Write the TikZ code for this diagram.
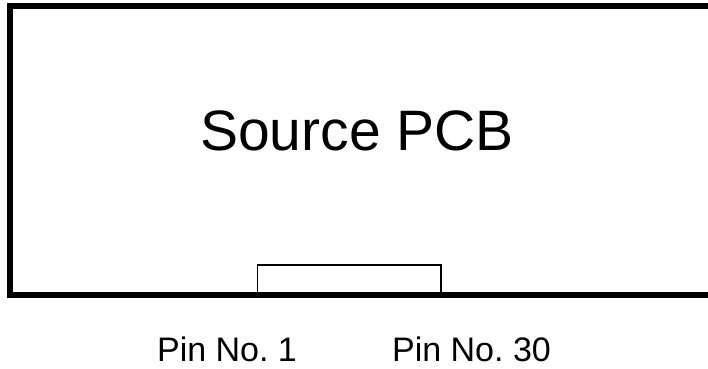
\documentclass[tikz,border=0pt]{standalone}
\usepackage{fontspec}
\setmainfont{Liberation Sans}
\usepackage{tikz}
\usetikzlibrary{positioning}
\frenchspacing

\begin{document}
\begin{tikzpicture}[
  x=1pt, y=-1pt,
  board/.style={line width=6pt, line join=miter},
  conn/.style={draw, line width=1.5pt, inner sep=0pt, minimum width=183.5pt, minimum height=30pt},
  label/.style={inner sep=0pt, anchor=base, font=\fontsize{34}{40}\selectfont},
  title/.style={inner sep=0pt, anchor=base, font=\fontsize{57}{66}\selectfont}
]
\useasboundingbox (0,0) rectangle (708,368);
\node[conn] (connector) at (349.25,280) {};
\draw[board] (708,6) -- (9.5,6) -- (9.5,295) -- (708,295);
\node[title] (pcb) at (357,150) {Source PCB};
\node[label] (pin1) at (227,361) {Pin No. 1};
\node[label] (pin30) at (471.5,361) {Pin No. 30};
\end{tikzpicture}
\end{document}
